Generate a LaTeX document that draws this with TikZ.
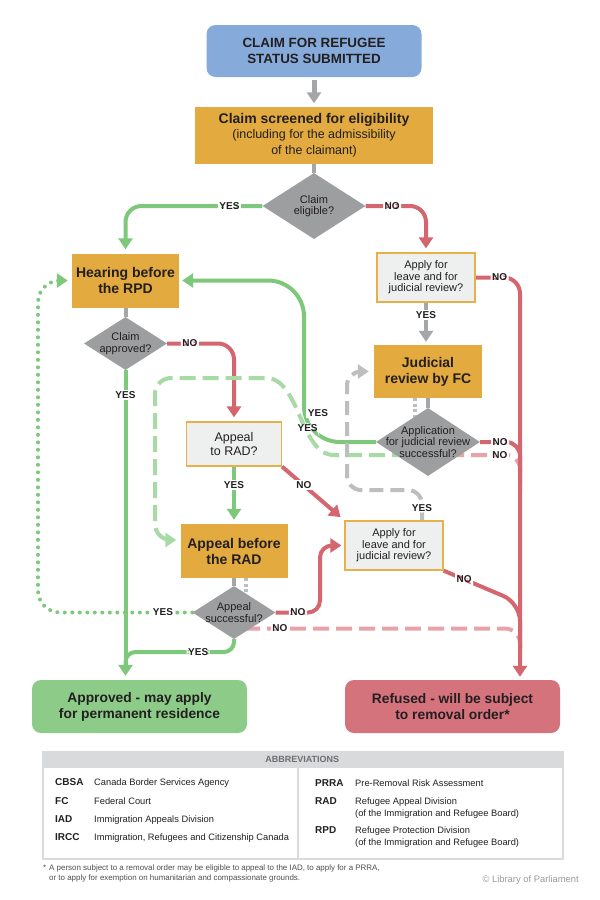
\documentclass[tikz,border=0pt]{standalone}
\usepackage{fontspec}
\setmainfont{Liberation Sans}
\usetikzlibrary{arrows.meta,shapes.geometric}
\pgfdeclarelayer{bg}
\pgfsetlayers{bg,main}
\definecolor{ink}{HTML}{231F20}
\definecolor{cblue}{HTML}{86ABDB}
\definecolor{corange}{HTML}{E3AA3F}
\definecolor{clight}{HTML}{EEF0EF}
\definecolor{cborder}{HTML}{E8B04A}
\definecolor{cdia}{HTML}{9D9EA0}
\definecolor{cgreen}{HTML}{7EC87C}
\definecolor{cgreenl}{HTML}{A8DAA5}
\definecolor{cred}{HTML}{D4666F}
\definecolor{credl}{HTML}{E8A3A8}
\definecolor{cgray}{HTML}{A5A6A8}
\definecolor{cgrayl}{HTML}{BDBEC0}
\definecolor{capp}{HTML}{8DCB88}
\definecolor{cref}{HTML}{D5737C}
\definecolor{cabbr}{HTML}{D9DADB}
\definecolor{cabhd}{HTML}{6D6E71}
\definecolor{cfoot}{HTML}{4D4D4F}
\definecolor{ccopy}{HTML}{9A9B9D}
\begin{document}
\begin{tikzpicture}[x=1pt,y=-1pt,
  box/.style={align=center,text=ink,inner sep=0pt},
  bluebox/.style={box,fill=cblue,rounded corners=9pt,minimum width=215pt,minimum height=52pt,font=\fontsize{13.4}{15.5}\selectfont\bfseries},
  obox/.style={box,fill=corange,font=\fontsize{14}{16}\selectfont\bfseries},
  qbox/.style={box,fill=clight,draw=cborder,line width=1.2pt,font=\fontsize{11}{11.5}\selectfont},
  dia/.style={shape=diamond,fill=cdia,inner sep=0pt},
  dtext/.style={align=center,text=ink,font=\fontsize{11}{11.5}\selectfont,inner sep=0pt},
  endbox/.style={box,rounded corners=9pt,minimum width=215pt,minimum height=53pt,font=\fontsize{13.8}{16}\selectfont\bfseries},
  lab/.style={fill=white,inner sep=1.5pt,text=ink,font=\fontsize{10}{10}\selectfont\bfseries},
  arr/.style={-{Triangle[width=14pt,length=11pt]}},
  conn/.style={line width=4pt},
  gline/.style={conn,draw=cgreen},
  gdash/.style={conn,draw=cgreenl,dash pattern=on 16pt off 7pt},
  gdotl/.style={conn,draw=cgreen,line cap=round,dash pattern=on 0pt off 7.5pt},
  rline/.style={conn,draw=cred},
  rdash/.style={conn,draw=credl,dash pattern=on 16pt off 7pt},
  grline/.style={conn,draw=cgray},
  grdash/.style={conn,draw=cgrayl,dash pattern=on 14pt off 7pt},
  grdot/.style={line width=3.5pt,draw=cgrayl,dash pattern=on 3pt off 2.5pt},
  abk/.style={anchor=base west,inner sep=0pt,text=ink,font=\fontsize{10}{12}\selectfont\bfseries},
  abd/.style={anchor=base west,inner sep=0pt,text=ink,font=\fontsize{9.3}{11.5}\selectfont},
  abd2/.style={anchor=north west,inner sep=0pt,text=ink,align=left,font=\fontsize{9.3}{11.5}\selectfont}
]
\useasboundingbox (0,0) rectangle (600,900);

% ---------- nodes ----------
\node[bluebox] (start) at (314,51) {CLAIM FOR REFUGEE\\STATUS SUBMITTED};
\node[obox,minimum width=238pt,minimum height=57pt,font=\fontsize{12.5}{15.5}\selectfont] (screen) at (314,135)
  {{\bfseries\fontsize{14}{15.5}\selectfont Claim screened for eligibility}\\(including for the admissibility\\of the claimant)};
\node[dia,minimum width=103pt,minimum height=66pt,label={[dtext]center:{Claim\\eligible?}}] (elig) at (314,206) {};
\node[obox,minimum width=107pt,minimum height=54pt] (hearing) at (125.5,280.5) {Hearing before\\the RPD};
\node[dia,minimum width=83pt,minimum height=53pt,label={[dtext]center:{Claim\\approved?}}] (approvedQ) at (125.5,343.5) {};
\node[qbox,minimum width=98pt,minimum height=49pt] (apply1) at (426,277.5) {Apply for\\leave and for\\judicial review?};
\node[obox,minimum width=108pt,minimum height=53pt] (judicial) at (428,371.5) {Judicial\\review by FC};
\node[dia,minimum width=104pt,minimum height=68pt,label={[dtext]center:{Application\\for judicial review\\successful?}}] (jrQ) at (428,442) {};
\node[qbox,minimum width=95pt,minimum height=44pt,font=\fontsize{12.5}{14}\selectfont] (appealQ) at (234,444) {Appeal\\to RAD?};
\node[obox,minimum width=107pt,minimum height=54pt] (appealRAD) at (234,551) {Appeal before\\the RAD};
\node[dia,minimum width=83pt,minimum height=53pt,label={[dtext]center:{Appeal\\successful?}}] (appealsQ) at (234,612.5) {};
\node[qbox,minimum width=98pt,minimum height=49pt] (apply2) at (394,545.5) {Apply for\\leave and for\\judicial review?};
\node[endbox,fill=capp] (approved) at (139.5,706.5) {Approved - may apply\\for permanent residence};
\node[endbox,fill=cref] (refused) at (452.5,706.5) {Refused - will be subject\\to removal order*};

% ---------- helper coordinates ----------
\coordinate (rx) at (520,0);
\coordinate (lx) at (38,0);
\coordinate (gx) at (304,0);
\coordinate (gx2) at (155,0);
\coordinate (gyx) at (347,0);
\coordinate (rx2) at (320,0);
\coordinate (gy) at (0,490);
\coordinate (gy2) at (0,652);
\coordinate (rm1) at (520,482);
\coordinate (rm2) at (520,492);
\coordinate (rm3) at (520,652);
\coordinate (rm4) at (520,648);
\coordinate (rj) at (520,603);
\coordinate (gm) at (125.5,672);
\coordinate (jrlow) at ([yshift=-13pt]jrQ.center);
\coordinate (aslow) at ([yshift=-16pt]appealsQ.center);
\coordinate (radin) at ([yshift=11pt]appealRAD.west);
\coordinate (apin) at ([xshift=28pt]apply2.north);

% ---------- connectors ----------
\begin{pgfonlayer}{bg}
\fill[white] (0,0) rectangle (600,900);
\draw[grline,line width=5pt,arr,shorten <=3pt,shorten >=3pt] (start.south) -- (screen.north);
\draw[grline] (screen.south) -- (elig.north);
\draw[gline,arr,rounded corners=16pt,shorten >=4pt] (elig.west) -| (hearing.north) node[lab,pos=0.12]{YES};
\draw[rline,arr,rounded corners=16pt,shorten >=4pt] (elig.east) -| (apply1.north) node[lab,pos=0.22]{NO};
\draw[grline] (hearing.south) -- (approvedQ.north);
\draw[rline,arr,rounded corners=16pt,shorten >=4pt] (approvedQ.east) -| (appealQ.north) node[lab,pos=0.17]{NO};
\draw[gline,arr,shorten >=4pt] (approvedQ.south) -- (approvedQ.south |- approved.north) node[lab,pos=0.08]{YES};
\draw[grline,arr,shorten >=3pt] (apply1.south) -- (apply1.south |- judicial.north) node[lab,pos=0.3]{YES};
\draw[grline] (judicial.south) -- (jrQ.north);
\draw[grdot] ([xshift=-13pt]judicial.south) -- ++(0,22);
\draw[rdash,rounded corners=14pt] ([xshift=20pt]jrlow) -- node[lab,pos=0.72]{NO} (jrlow -| rx) -- (rm2);
\draw[rline,rounded corners=14pt] (jrQ.east) -- node[lab,pos=0.5]{NO} (jrQ.east -| rx) -- (rm1);
\draw[gline,arr,rounded corners=36pt,shorten >=3pt] (jrQ.west) -- (jrQ.west -| gx) -- (hearing.east -| gx) -- (hearing.east);
\node[lab] at (318,413) {YES};
\draw[gdash,arr,rounded corners=16pt,shorten >=4pt] ([xshift=-20pt]jrlow) -- (350,455) .. controls (300,455) and (300,378) .. (250,378) node[lab,pos=0.4]{YES} -- (155,378) -- (radin -| gx2) -- (radin);
\draw[grdash,arr,rounded corners=14pt,shorten >=5pt] (apin) -- node[lab,pos=0.42]{YES} (apin |- gy) -- (gyx |- gy) -- (gyx |- judicial.west) -- (judicial.west);
\draw[gline,arr,shorten >=4pt] (appealQ.south) -- (appealQ.south |- appealRAD.north) node[lab,pos=0.32]{YES};
\draw[rline,arr,shorten >=5pt] (appealQ.south east) -- (apply2.north west) node[lab,pos=0.35]{NO};
\draw[grline] (appealRAD.south) -- (appealsQ.north);
\draw[grdot] ([xshift=12pt]appealRAD.south) -- ++(0,20);
\draw[rline,arr,rounded corners=12pt,shorten >=3pt] (appealsQ.east) -- node[lab,pos=0.5]{NO} (appealsQ.east -| rx2) -- (apply2.west -| rx2) -- (apply2.west);
\draw[rdash,rounded corners=15pt] ([xshift=10pt]aslow) -- node[lab,pos=0.13]{NO} (aslow -| rx) -- (rm3);
\draw[gdotl,arr,rounded corners=22pt,shorten >=4pt] (appealsQ.west) -- node[lab,pos=0.19]{YES} (appealsQ.west -| lx) -- (hearing.west -| lx) -- (hearing.west);
\draw[gline,rounded corners=10pt] (appealsQ.south) -- (appealsQ.south |- gy2) -- node[lab,pos=0.33]{YES} (gm |- gy2) -- (gm);
\draw[rline,rounded corners=18pt] (apply2.south east) -- node[lab,pos=0.27]{NO} (rj) -- (rm4);
% main red collector drawn last so that the merging lines sit under it
\draw[rline,arr,rounded corners=16pt,shorten >=3pt] (apply1.east) -| (rx |- refused.north) node[lab,pos=0.27]{NO};
\end{pgfonlayer}

% ---------- abbreviations ----------
\node[draw=cabbr,line width=1.5pt,minimum width=520pt,minimum height=107pt,anchor=north west,inner sep=0pt] (abbr) at (42,751) {};
\node[fill=cabbr,minimum width=520pt,minimum height=17pt,anchor=north west,inner sep=0pt,text=cabhd,font=\fontsize{9}{9}\selectfont\bfseries] (abbrhd) at (42,751) {ABBREVIATIONS};
\coordinate (dv) at (298,0);
\draw[cabbr,line width=1.5pt] (abbrhd.south -| dv) -- (abbr.south -| dv);
\node[abk] (k1) at (55,785.7) {CBSA};
\node[abd] (d1) at (94,785.7) {Canada Border Services Agency};
\node[abk] (k2) at (55,804) {FC};
\node[abd] (d2) at (94,804) {Federal Court};
\node[abk] (k3) at (55,822.4) {IAD};
\node[abd] (d3) at (94,822.4) {Immigration Appeals Division};
\node[abk] (k4) at (55,840) {IRCC};
\node[abd] (d4) at (94,840) {Immigration, Refugees and Citizenship Canada};
\node[abk] (k5) at (315,786) {PRRA};
\node[abd] (d5) at (355,786) {Pre-Removal Risk Assessment};
\node[abk] (k6) at (315,804.4) {RAD};
\node[abd2] (d6) at (355,797.6) {Refugee Appeal Division\\(of the Immigration and Refugee Board)};
\node[abk] (k7) at (315,833.4) {RPD};
\node[abd2] (d7) at (355,826.6) {Refugee Protection Division\\(of the Immigration and Refugee Board)};

% ---------- footnote ----------
\node[anchor=north west,inner sep=0pt,align=left,text=cfoot,font=\fontsize{7.95}{9.8}\selectfont] (foot) at (49,864.5)
  {\llap{*\hspace{3pt}}A person subject to a removal order may be eligible to appeal to the IAD, to apply for a PRRA,\\or to apply for exemption on humanitarian and compassionate grounds.};
\node[anchor=base east,inner sep=0pt,text=ccopy,font=\fontsize{9.4}{10}\selectfont] (copy) at (579,882.7) {\textcopyright{} Library of Parliament};
\end{tikzpicture}
\end{document}
